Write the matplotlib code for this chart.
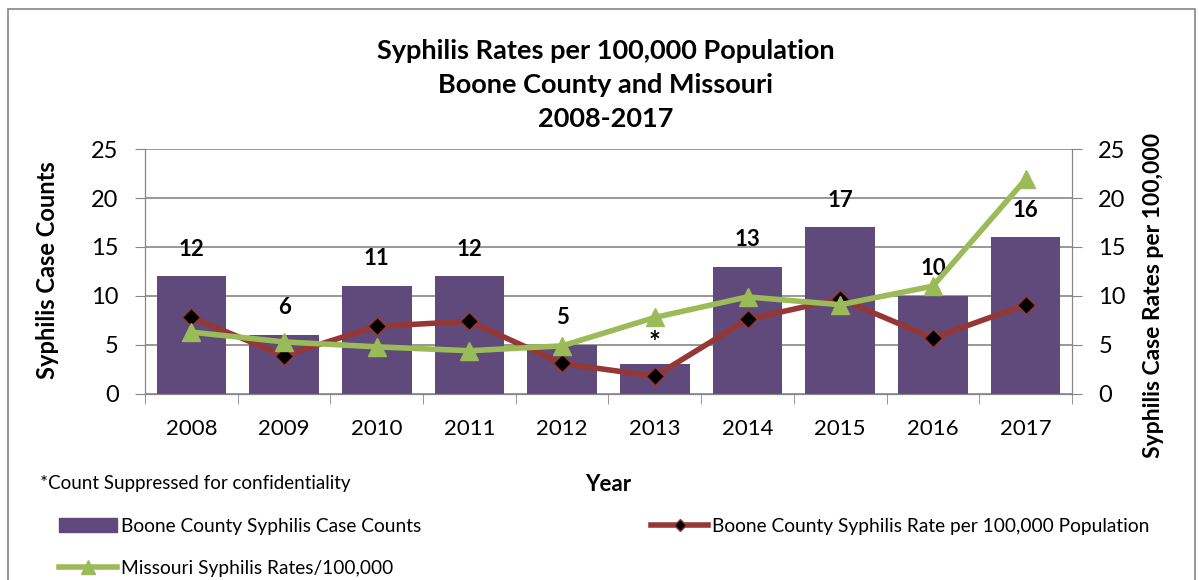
# Syphilis rates chart, Boone County vs Missouri

import matplotlib.pyplot as plt
from matplotlib.lines import Line2D
from matplotlib.patches import Patch, Rectangle

plt.rcParams['font.family'] = ['Lato', 'DejaVu Sans']

years = ['2008', '2009', '2010', '2011', '2012', '2013', '2014', '2015', '2016', '2017']
case_counts = [12, 6, 11, 12, 5, 3, 13, 17, 10, 16]
count_labels = ['12', '6', '11', '12', '5', '*', '13', '17', '10', '16']
boone_rate = [7.8, 3.9, 6.9, 7.4, 3.1, 1.8, 7.6, 9.7, 5.7, 9.1]
missouri_rate = [6.3, 5.3, 4.8, 4.4, 4.9, 7.8, 9.9, 9.1, 11.0, 21.9]

purple = '#604A7B'
red = '#953735'
green = '#9BBB59'

fig = plt.figure(figsize=(11.99, 5.80), dpi=100)
ax = fig.add_axes([0.121, 0.321, 0.773, 0.422])
x = list(range(len(years)))

ax.bar(x, case_counts, width=0.75, color=purple, zorder=2)
for xi, v, lab in zip(x, case_counts, count_labels):
    fs = 20 if lab == '*' else 16
    off = 6 if lab == '*' else 12
    ax.annotate(lab, (xi, v), xytext=(0, off), textcoords='offset points',
                ha='center', va='bottom', fontsize=fs, fontweight='bold')

ax2 = ax.twinx()
ax2.plot(x, boone_rate, color=red, lw=4, marker='D', ms=9,
         markerfacecolor='black', markeredgecolor=red, markeredgewidth=1, zorder=3)
ax2.plot(x, missouri_rate, color=green, lw=4, marker='^', ms=13,
         markerfacecolor=green, markeredgecolor=green, zorder=4)

for a in (ax, ax2):
    a.set_ylim(0, 25)
    a.set_yticks([0, 5, 10, 15, 20, 25])
    a.tick_params(axis='y', labelsize=17, length=7, pad=12, color='#868686')
    for s in a.spines.values():
        s.set_color('#868686')
    a.spines['top'].set_visible(False)

ax.set_xlim(-0.5, len(years) - 0.5)
ax.set_xticks(x)
ax.set_xticklabels(years, fontsize=16)
ax.tick_params(axis='x', length=0, pad=18)
ax.set_xticks([i - 0.5 for i in range(len(years) + 1)], minor=True)
ax.tick_params(axis='x', which='minor', length=7, color='#868686')
ax.grid(axis='y', color='#868686', lw=1.2, zorder=0)
ax.set_axisbelow(True)

ax.set_xlabel('Year', fontsize=16, fontweight='bold', labelpad=25)
fig.text(48 / 1199, 1 - 270 / 580, 'Syphilis Case Counts', rotation=90,
         ha='center', va='center', fontsize=17, fontweight='bold')
fig.text(1154 / 1199, 1 - 295 / 580, 'Syphilis Case Rates per 100,000', rotation=90,
         ha='center', va='center', fontsize=16.5, fontweight='bold')

fig.text(0.505, 0.853, 'Syphilis Rates per 100,000 Population\nBoone County and Missouri\n2008-2017',
         ha='center', va='center', fontsize=19.5, fontweight='bold', linespacing=1.5)

fig.text(0.033, 1 - 483 / 580, '*Count Suppressed for confidentiality', fontsize=13.5, va='center')

handles = [
    Patch(color=purple),
    Line2D([], [], color=green, lw=4, marker='^', ms=10, markerfacecolor=green),
    Line2D([], [], color=red, lw=4, marker='D', ms=6, markerfacecolor='black', markeredgecolor=red),
]
labels = ['Boone County Syphilis Case Counts', 'Missouri Syphilis Rates/100,000',
          'Boone County Syphilis Rate per 100,000 Population']
fig.legend(handles, labels, ncol=2, loc='lower left', bbox_to_anchor=(0.035, -0.024),
           frameon=False, fontsize=13.8, handlelength=3, handletextpad=0.2,
           columnspacing=12, labelspacing=1.3)

fig.patches.append(Rectangle((0.007, -0.01), 0.99, 0.995, transform=fig.transFigure,
                             fill=False, edgecolor='#868686', lw=1.2))

fig.savefig('out.png', dpi=100)
